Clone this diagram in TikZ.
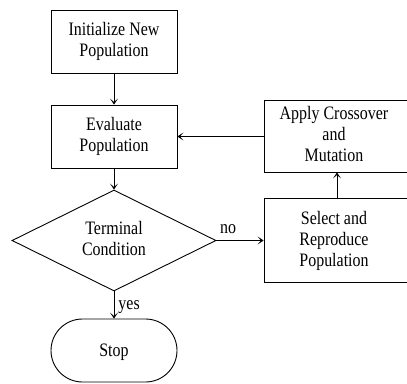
\documentclass[tikz,border=0pt]{standalone}
\usepackage{fontspec}
\usepackage{graphicx}
\setmainfont{Liberation Serif}
\usetikzlibrary{shapes.geometric,shapes.misc,arrows.meta}
\newcommand{\sqz}[1]{\scalebox{0.84}[1]{\begin{tabular}{@{}c@{}}#1\end{tabular}}}
\begin{document}
\begin{tikzpicture}[x=1pt,y=-1pt,
  every node/.style={font=\fontsize{19}{21}\selectfont, align=center},
  procbox/.style={draw, line width=0.9pt, rectangle, inner sep=0pt},
  decbox/.style={draw, line width=0.9pt, diamond, inner sep=0pt, minimum width=204pt, minimum height=101pt},
  termbox/.style={draw, line width=0.9pt, rounded rectangle, inner sep=0pt, minimum width=126pt, minimum height=63pt},
  flow/.style={line width=0.9pt, -{Stealth[length=6pt,width=8pt,inset=3.5pt]}},
  lbl/.style={inner sep=0pt}]
\useasboundingbox (0,0) rectangle (407,383);
\clip (0,0) rectangle (407,383);
\node[procbox, minimum width=126pt, minimum height=63pt] (init) at (114,41.5) {};
\node (inittxt) at (114,42) {\sqz{Initialize New\\Population}};
\node[procbox, minimum width=126pt, minimum height=63pt] (eval) at (114,136.5) {};
\node (evaltxt) at (114,137) {\sqz{Evaluate\\Population}};
\node[decbox] (cond) at (114,240.5) {};
\node (condtxt) at (114,241) {\sqz{Terminal\\Condition}};
\node[termbox] (stop) at (114,350.5) {};
\node (stoptxt) at (114,352) {\sqz{Stop}};
\node[procbox, minimum width=146pt, minimum height=72pt] (apply) at (337,136) {};
\node (applytxt) at (334,136) {\sqz{Apply Crossover\\and\\Mutation}};
\node[procbox, minimum width=146pt, minimum height=84pt] (select) at (337,240) {};
\node (selecttxt) at (334,241) {\sqz{Select and\\Reproduce\\Population}};
\draw[flow] (init) -- (eval);
\draw[flow] (eval) -- (cond);
\draw[flow] (cond.south) -- (stop.north) node[lbl, midway, right=4pt] {\sqz{yes}};
\draw[flow] (cond.east) -- (select.west |- cond.east) node[lbl, pos=0.25, above=0pt] {\sqz{no}};
\draw[flow] (select.north) -- (apply.south);
\draw[flow] (apply.west |- eval.east) -- (eval.east);
\end{tikzpicture}
\end{document}
